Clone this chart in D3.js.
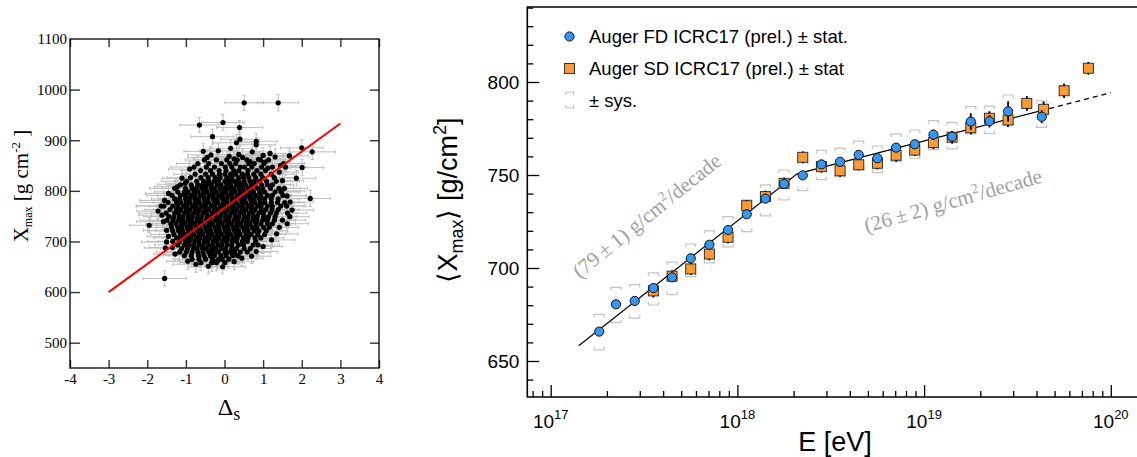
<!DOCTYPE html>
<html>
<head>
<meta charset="utf-8">
<script src="https://cdn.jsdelivr.net/npm/d3@7"></script>
<style>
  html, body { margin: 0; padding: 0; background: #fff; }
  svg { display: block; }
</style>
</head>
<body>
<svg id="chart" width="1137" height="457"></svg>
<script>
// ================= Left panel: Xmax of single events against Δs =================
// Events are grouped in Xmax bands; each band lists the Δs of its events.
const bandXmax = [861, 854, 847, 840, 833, 826, 819, 812, 805, 798, 791, 784, 777, 770, 763,
                  756, 749, 742, 735, 728, 721, 714, 707, 700, 693, 686, 679, 672, 665, 658];
const bandDeltaS = [
  [-0.52, -0.21, 0.06, 0.33, 0.58, 0.93, 1.14],
  [-0.69, -0.41, -0.08, 0.14, 0.29, 0.63, 0.77, 1.02, 1.53],
  [-0.79, -0.47, -0.26, 0.02, 0.19, 0.41, 0.52, 0.71, 0.96, 1.24, 1.58],
  [-0.62, -0.36, -0.14, 0.04, 0.24, 0.37, 0.61, 0.84, 1.06],
  [-0.76, -0.49, -0.31, -0.13, 0.01, 0.16, 0.29, 0.46, 0.59, 0.76, 0.94, 1.21],
  [-0.88, -0.61, -0.42, -0.24, -0.11, 0.06, 0.19, 0.36, 0.49, 0.63, 0.81, 0.99, 1.29],
  [-0.98, -0.72, -0.54, -0.41, -0.27, -0.16, 0.01, 0.13, 0.26, 0.37, 0.51, 0.66, 0.77, 0.91, 1.09, 1.34],
  [-1.14, -0.86, -0.69, -0.57, -0.46, -0.34, -0.19, -0.09, 0.06, 0.16, 0.31, 0.43, 0.54, 0.69, 0.79, 0.96, 1.11, 1.24],
  [-1.29, -1.01, -0.84, -0.73, -0.59, -0.49, -0.35, -0.25, -0.11, 0.01, 0.13, 0.23, 0.37, 0.47, 0.61, 0.71, 0.86, 0.99, 1.19, 1.41],
  [-1.21, -1.04, -0.94, -0.79, -0.69, -0.55, -0.45, -0.31, -0.21, -0.07, 0.03, 0.17, 0.27, 0.41, 0.51, 0.65, 0.75, 0.91, 1.04, 1.31, 1.46],
  [-1.36, -1.14, -1.01, -0.87, -0.77, -0.63, -0.53, -0.39, -0.29, -0.15, -0.05, 0.09, 0.19, 0.33, 0.43, 0.57, 0.67, 0.81, 0.94, 1.11, 1.24, 1.51],
  [-1.29, -1.16, -1.01, -0.91, -0.77, -0.67, -0.53, -0.43, -0.29, -0.19, -0.05, 0.05, 0.19, 0.29, 0.43, 0.53, 0.67, 0.77, 0.91, 1.04, 1.21, 1.39],
  [-1.46, -1.24, -1.13, -0.99, -0.89, -0.75, -0.65, -0.51, -0.41, -0.27, -0.17, -0.03, 0.07, 0.21, 0.31, 0.45, 0.55, 0.69, 0.79, 0.93, 1.04, 1.21, 1.37, 1.56],
  [-1.64, -1.57, -1.34, -1.21, -1.07, -0.97, -0.83, -0.73, -0.59, -0.49, -0.35, -0.25, -0.11, -0.01, 0.13, 0.23, 0.37, 0.47, 0.61, 0.71, 0.85, 0.95, 1.11, 1.24, 1.46, 1.61],
  [-1.41, -1.24, -1.13, -0.99, -0.89, -0.75, -0.65, -0.51, -0.41, -0.27, -0.17, -0.03, 0.07, 0.21, 0.31, 0.45, 0.55, 0.69, 0.79, 0.95, 1.07, 1.23, 1.39],
  [-1.51, -1.29, -1.18, -1.04, -0.94, -0.8, -0.7, -0.56, -0.46, -0.32, -0.22, -0.08, 0.02, 0.16, 0.26, 0.4, 0.5, 0.64, 0.74, 0.89, 1.01, 1.19, 1.34, 1.63],
  [-1.44, -1.31, -1.17, -1.07, -0.93, -0.83, -0.69, -0.59, -0.45, -0.35, -0.21, -0.11, 0.03, 0.13, 0.27, 0.37, 0.51, 0.61, 0.75, 0.85, 1.01, 1.14, 1.31, 1.69],
  [-1.49, -1.33, -1.19, -1.09, -0.95, -0.85, -0.71, -0.61, -0.47, -0.37, -0.23, -0.13, 0.01, 0.11, 0.25, 0.35, 0.49, 0.59, 0.73, 0.84, 0.99, 1.11, 1.29],
  [-1.39, -1.26, -1.12, -1.02, -0.88, -0.78, -0.64, -0.54, -0.4, -0.3, -0.16, -0.06, 0.08, 0.18, 0.32, 0.42, 0.56, 0.66, 0.81, 0.94, 1.11, 1.24, 1.62],
  [-1.37, -1.21, -1.11, -0.97, -0.87, -0.73, -0.63, -0.49, -0.39, -0.25, -0.15, -0.01, 0.09, 0.23, 0.33, 0.47, 0.57, 0.71, 0.84, 1.01, 1.16],
  [-1.34, -1.19, -1.08, -0.94, -0.84, -0.7, -0.6, -0.46, -0.36, -0.22, -0.12, 0.02, 0.12, 0.26, 0.36, 0.51, 0.61, 0.77, 0.89, 1.08],
  [-1.31, -1.14, -1.04, -0.9, -0.8, -0.66, -0.56, -0.42, -0.32, -0.18, -0.08, 0.06, 0.16, 0.3, 0.4, 0.56, 0.69, 0.86, 1.04],
  [-1.24, -1.11, -0.97, -0.87, -0.73, -0.63, -0.49, -0.39, -0.25, -0.15, -0.01, 0.09, 0.23, 0.33, 0.49, 0.61, 0.79, 0.94],
  [-1.34, -1.16, -1.01, -0.91, -0.77, -0.67, -0.53, -0.43, -0.29, -0.19, -0.05, 0.05, 0.19, 0.31, 0.46, 0.59, 0.81],
  [-1.21, -1.04, -0.91, -0.79, -0.65, -0.55, -0.41, -0.31, -0.17, -0.07, 0.07, 0.19, 0.36, 0.49, 0.74, 0.87],
  [-1.11, -0.96, -0.81, -0.71, -0.57, -0.47, -0.33, -0.23, -0.09, 0.03, 0.19, 0.31, 0.51, 0.67],
  [-1.16, -0.99, -0.84, -0.69, -0.56, -0.41, -0.29, -0.16, 0.01, 0.13, 0.26, 0.41, 0.59],
  [-1.04, -0.86, -0.67, -0.53, -0.37, -0.26, -0.09, 0.04, 0.21, 0.34],
  [-0.84, -0.66, -0.49, -0.31, -0.14, -0.06, 0.11],
  [-0.61, -0.33, -0.21, 0.01]
];
const bandSigmaDeltaS = [
  [.5,.55,.45,.6,.5,.65,.55],
  [.55,.5,.6,.45,.5,.55,.6,.5,.55],
  [.6,.5,.45,.55,.5,.6,.45,.55,.5,.6,.55],
  [.5,.6,.45,.55,.5,.45,.6,.5,.55],
  [.55,.6,.5,.45,.55,.5,.6,.45,.5,.55,.5,.6],
  [.6,.5,.55,.45,.6,.5,.45,.55,.5,.6,.5,.55,.6],
  [.65,.55,.5,.6,.45,.5,.55,.6,.45,.5,.55,.5,.6,.45,.55,.6],
  [.6,.55,.5,.6,.45,.55,.5,.6,.5,.45,.55,.6,.5,.45,.55,.5,.6,.55],
  [.65,.6,.5,.55,.45,.6,.5,.55,.45,.5,.6,.5,.55,.45,.6,.5,.55,.5,.6,.55],
  [.6,.55,.5,.6,.45,.55,.5,.6,.5,.45,.55,.6,.5,.45,.55,.5,.6,.45,.55,.6,.5],
  [.65,.6,.5,.55,.45,.6,.5,.55,.45,.5,.6,.5,.55,.45,.6,.5,.55,.5,.6,.55,.5,.6],
  [.6,.55,.5,.6,.45,.55,.5,.6,.5,.45,.55,.6,.5,.45,.55,.5,.6,.45,.55,.6,.5,.55],
  [.7,.6,.5,.55,.45,.6,.5,.55,.45,.5,.6,.5,.55,.45,.6,.5,.55,.5,.6,.55,.5,.6,.55,.5],
  [.65,.7,.6,.55,.5,.6,.45,.55,.5,.6,.5,.45,.55,.6,.5,.45,.55,.5,.6,.45,.55,.6,.5,.55,.6,.5],
  [.65,.6,.5,.55,.45,.6,.5,.55,.45,.5,.6,.5,.55,.45,.6,.5,.55,.5,.6,.55,.5,.6,.55],
  [.7,.6,.55,.5,.6,.45,.55,.5,.6,.5,.45,.55,.6,.5,.45,.55,.5,.6,.45,.55,.6,.5,.55,.5],
  [.65,.6,.5,.55,.45,.6,.5,.55,.45,.5,.6,.5,.55,.45,.6,.5,.55,.5,.6,.55,.5,.6,.55,.5],
  [.7,.6,.55,.5,.6,.45,.55,.5,.6,.5,.45,.55,.6,.5,.45,.55,.5,.6,.45,.55,.6,.5,.55],
  [.65,.6,.5,.55,.45,.6,.5,.55,.45,.5,.6,.5,.55,.45,.6,.5,.55,.5,.6,.55,.5,.6,.55],
  [.6,.55,.5,.6,.45,.55,.5,.6,.5,.45,.55,.6,.5,.45,.55,.5,.6,.45,.55,.6,.5],
  [.65,.6,.5,.55,.45,.6,.5,.55,.45,.5,.6,.5,.55,.45,.6,.5,.55,.5,.6,.55],
  [.6,.55,.5,.6,.45,.55,.5,.6,.5,.45,.55,.6,.5,.45,.55,.5,.6,.45,.55],
  [.6,.5,.55,.45,.6,.5,.55,.45,.5,.6,.5,.55,.45,.6,.5,.55,.5,.6],
  [.65,.55,.5,.6,.45,.55,.5,.6,.5,.45,.55,.6,.5,.45,.55,.5,.6],
  [.6,.5,.55,.45,.6,.5,.55,.45,.5,.6,.5,.55,.45,.6,.5,.55],
  [.55,.6,.5,.45,.55,.5,.6,.45,.5,.55,.6,.5,.45,.55],
  [.6,.5,.55,.45,.6,.5,.55,.45,.5,.6,.5,.55,.6],
  [.55,.6,.5,.45,.55,.5,.6,.45,.5,.55],
  [.5,.55,.6,.45,.5,.55,.5],
  [.55,.5,.6,.5]
];
const bandSigmaXmax = [
  [16,14,17,15,13,18,15],
  [15,17,13,16,18,14,16,15,17],
  [17,14,16,15,18,13,16,17,14,15,16],
  [14,16,18,15,13,17,15,16,14],
  [16,15,13,17,16,14,18,15,16,13,17,15],
  [15,17,16,14,15,18,13,16,15,17,14,16,15],
  [17,15,14,16,18,15,13,16,17,14,15,16,18,15,14,16],
  [14,16,17,15,13,16,18,14,15,17,16,13,15,17,14,16,15,18],
  [16,15,13,17,16,14,18,15,16,13,17,15,14,16,18,15,13,16,17,15],
  [15,17,16,14,15,18,13,16,15,17,14,16,15,13,17,16,14,18,15,16,14],
  [17,14,16,15,18,13,16,17,14,15,16,18,15,14,16,17,13,15,16,14,17,15],
  [14,16,18,15,13,17,15,16,14,17,15,13,16,18,14,15,17,16,13,15,16,14],
  [16,15,13,17,16,14,18,15,16,13,17,15,14,16,18,15,13,16,17,15,14,16,15,17],
  [15,17,16,14,15,18,13,16,15,17,14,16,15,13,17,16,14,18,15,16,14,17,15,13,16,18],
  [17,14,16,15,18,13,16,17,14,15,16,18,15,14,16,17,13,15,16,14,17,15,16],
  [14,16,18,15,13,17,15,16,14,17,15,13,16,18,14,15,17,16,13,15,16,14,17,15],
  [16,15,13,17,16,14,18,15,16,13,17,15,14,16,18,15,13,16,17,15,14,16,15,17],
  [15,17,16,14,15,18,13,16,15,17,14,16,15,13,17,16,14,18,15,16,14,17,15],
  [17,14,16,15,18,13,16,17,14,15,16,18,15,14,16,17,13,15,16,14,17,15,16],
  [14,16,18,15,13,17,15,16,14,17,15,13,16,18,14,15,17,16,13,15,16],
  [16,15,13,17,16,14,18,15,16,13,17,15,14,16,18,15,13,16,17,15],
  [15,17,16,14,15,18,13,16,15,17,14,16,15,13,17,16,14,18,15],
  [17,14,16,15,18,13,16,17,14,15,16,18,15,14,16,17,13,15],
  [14,16,18,15,13,17,15,16,14,17,15,13,16,18,14,15,17],
  [16,15,13,17,16,14,18,15,16,13,17,15,14,16,18,15],
  [15,17,16,14,15,18,13,16,15,17,14,16,15,13],
  [17,14,16,15,18,13,16,17,14,15,16,18,15],
  [14,16,18,15,13,17,15,16,14,17],
  [16,15,13,17,16,14,18],
  [15,17,16,14]
];
// Events scattered around the rim of the cloud and isolated outliers
const looseDeltaS      = [-1.55, 0.51, 1.39, -0.65, -0.04, 0.39, -0.31, 0.40, 0.31, 0.82, 0.82, 2.00, 2.27, -0.16,
                          0.16, -0.35, 1.68, 0.37, 0.47, 1.31, 1.18, 1.86, 2.22, -1.95, -1.53, -1.02, 2.01,
                          -0.45, 0.12, 0.66, 0.88, 1.05, -0.90, 1.42, 1.12, -0.55, 0.25, 0.72, 1.00, 1.45,
                          -1.45, -1.55, -1.72, -1.62, -1.58, -1.50, -1.45, -1.50, -1.35, -1.28, -1.22, -1.10,
                          1.50, 1.55, 1.62, 1.70, 1.75, 1.50, 1.42, 1.35, 1.22, 1.00, 0.82, 0.70, 1.48,
                          -0.95, -0.42, -0.05, 0.25, 0.45, 0.35, -0.74, -0.18];
const looseXmax        = [627, 974, 974, 930, 935, 925, 907, 902, 895, 898, 891, 885, 877, 879,
                          884, 871, 869, 872, 866, 867, 874, 825, 785, 732, 687, 815, 846,
                          866, 868, 858, 862, 857, 843, 837, 845, 878, 863, 877, 870, 850,
                          795, 781, 760, 752, 739, 722, 710, 699, 688, 675, 808, 825,
                          820, 805, 790, 778, 762, 742, 728, 715, 703, 690, 680, 671, 800,
                          661, 651, 650, 660, 667, 672, 655, 662];
const looseSigmaDeltaS = [.56, .5, .53, .5, .55, .6, .55, .5, .6, .55, .5, .55, .6, .5,
                          .55, .6, .5, .55, .6, .5, .55, .5, .52, .5, .55, .5, .55,
                          .5, .6, .55, .5, .6, .55, .5, .6, .5, .55, .5, .6, .55,
                          .6, .65, .55, .6, .7, .6, .55, .65, .6, .55, .6, .5,
                          .55, .6, .5, .6, .55, .6, .5, .55, .6, .5, .55, .5, .6,
                          .55, .5, .6, .5, .55, .5, .6, .5];
const looseSigmaXmax   = [15, 15, 16, 15, 16, 14, 15, 14, 16, 15, 14, 16, 15, 14,
                          15, 16, 15, 14, 15, 16, 14, 15, 16, 15, 14, 15, 16,
                          15, 16, 14, 15, 16, 15, 14, 16, 15, 14, 16, 15, 14,
                          16, 15, 14, 16, 15, 17, 15, 14, 16, 15, 14, 16,
                          15, 16, 14, 15, 16, 15, 14, 16, 15, 14, 16, 15, 14,
                          16, 15, 14, 16, 15, 14, 16, 15];
// Linear fit through the events
const fitDeltaS = [-3, 3];
const fitXmax   = [600, 933];
const leftXTicks = [-4, -3, -2, -1, 0, 1, 2, 3, 4];
const leftYTicks = [500, 600, 700, 800, 900, 1000, 1100];

// ================= Right panel: <Xmax> against energy =================
const fdLog10E = [17.26, 17.35, 17.45, 17.55, 17.65, 17.75, 17.85, 17.95, 18.05, 18.15, 18.25, 18.35,
                  18.45, 18.55, 18.65, 18.75, 18.85, 18.95, 19.05, 19.15, 19.25, 19.35, 19.45, 19.63];
const fdXmax   = [665.8, 680.5, 682.3, 689.2, 695.0, 705.2, 712.5, 720.4, 728.9, 737.3, 745.2, 749.8,
                  755.7, 757.1, 760.8, 759.0, 764.7, 766.5, 771.7, 770.6, 778.7, 778.9, 784.2, 781.3];
const fdStat   = [2.0, 1.5, 1.3, 1.2, 1.1, 1.1, 1.1, 1.1, 1.1, 1.2, 1.2, 1.3,
                  1.4, 1.6, 1.8, 2.0, 2.2, 2.5, 2.8, 3.0, 4.5, 3.4, 5.5, 3.5];
const fdSysUp  = [9.3, 9.1, 8.8, 8.2, 8.2, 7.7, 7.5, 7.2, 7.7, 7.4, 7.5, 7.5,
                  7.5, 7.4, 7.4, 6.6, 7.4, 7.7, 7.5, 7.7, 8.1, 8.1, 8.8, 8.5];
const fdSysLow = [9.8, 9.8, 9.3, 9.1, 9.3, 9.8, 9.7, 9.0, 9.3, 9.3, 8.6, 8.2,
                  8.2, 8.1, 7.9, 7.7, 7.5, 7.5, 8.1, 6.6, 6.6, 6.6, 7.4, 5.7];
const sdLog10E = [17.55, 17.65, 17.75, 17.85, 17.95, 18.05, 18.15, 18.25, 18.35, 18.45, 18.55, 18.65,
                  18.75, 18.85, 18.95, 19.05, 19.15, 19.25, 19.35, 19.45, 19.55, 19.64, 19.75, 19.88];
const sdXmax   = [687.7, 695.6, 699.5, 707.5, 716.5, 733.5, 738.4, 745.5, 759.5, 754.5, 752.3, 755.5,
                  756.3, 760.6, 763.4, 767.4, 770.3, 775.4, 780.5, 779.6, 788.5, 785.3, 795.3, 807.4];
const sdStat   = [3.4, 3.1, 3.2, 3.3, 3.2, 3.0, 3.1, 3.0, 3.2, 3.1, 3.2, 3.0,
                  3.2, 3.3, 3.2, 3.3, 3.4, 3.5, 3.6, 3.8, 3.9, 4.1, 3.8, 3.4];
// Broken-line fit: elongation rates in g/cm^2 per decade on each side of the break
const fitBreakLog10E = 18.32;
const fitBreakXmax   = 750.6;
const rateBelowBreak = 79;
const rateAboveBreak = 26;
const fitStartLog10E = 17.15;
const fitSolidEndLog10E = 19.67;
const fitEndLog10E   = 20.0;
const rightXExponents = [17, 18, 19, 20];
const rightYTicks = [650, 700, 750, 800];

// ---------------------------------------------------------------------------------
const svg = d3.select('#chart');
const SERIF = "'Liberation Serif', 'Times New Roman', serif";
const SANS = "'Liberation Sans', Arial, Helvetica, sans-serif";

// ---------- left panel ----------
const L = { x0: 70, x1: 379, y0: 39, y1: 368 };
const lx = d3.scaleLinear().domain([-4, 4]).range([L.x0, L.x1]);
const ly = d3.scaleLinear().domain([450, 1100]).range([L.y1, L.y0]);

const events = [];
bandXmax.forEach((xm, i) => bandDeltaS[i].forEach((d, j) =>
  events.push({ d, x: xm, sd: bandSigmaDeltaS[i][j], sx: bandSigmaXmax[i][j] })));
looseDeltaS.forEach((d, i) =>
  events.push({ d, x: looseXmax[i], sd: looseSigmaDeltaS[i], sx: looseSigmaXmax[i] }));

const left = svg.append('g');
svg.append('defs').append('clipPath').attr('id', 'leftClip')
  .append('rect').attr('x', L.x0).attr('y', L.y0).attr('width', L.x1 - L.x0).attr('height', L.y1 - L.y0);

const cap = 1.6;
const errPath = events.map(e => {
  const cx = lx(e.d), cy = ly(e.x);
  const xa = lx(e.d - e.sd), xb = lx(e.d + e.sd);
  const ya = ly(e.x - e.sx), yb = ly(e.x + e.sx);
  return `M${xa},${cy}H${xb}M${xa},${cy - cap}V${cy + cap}M${xb},${cy - cap}V${cy + cap}` +
         `M${cx},${ya}V${yb}M${cx - cap},${ya}H${cx + cap}M${cx - cap},${yb}H${cx + cap}`;
}).join('');
left.append('path').attr('d', errPath).attr('fill', 'none')
  .attr('stroke', '#bdbdbd').attr('stroke-width', 1).attr('clip-path', 'url(#leftClip)');

left.append('g').selectAll('circle').data(events).join('circle')
  .attr('cx', e => lx(e.d)).attr('cy', e => ly(e.x)).attr('r', 2.6).attr('fill', '#000');

left.append('path')
  .attr('d', d3.line().x((d, i) => lx(d)).y((d, i) => ly(fitXmax[i]))(fitDeltaS))
  .attr('stroke', '#f00').attr('stroke-width', 2).attr('fill', 'none');

// axes with inward ticks on all four sides
const plainNum = d => String(d);
function styleAxis(g) {
  g.select('.domain').remove();
  g.selectAll('.tick line').attr('stroke', '#333').attr('stroke-width', 1.4);
  g.selectAll('.tick text').attr('font-family', SERIF).attr('font-size', 15).attr('fill', '#000');
}
left.append('g').attr('transform', `translate(${L.x0},0)`)
  .call(d3.axisLeft(ly).tickValues(leftYTicks.slice(0, -1)).tickSizeInner(-10).tickSizeOuter(0).tickPadding(3).tickFormat(plainNum))
  .call(styleAxis);
left.append('text').attr('x', L.x0 - 3).attr('y', ly(1100)).attr('dy', '0.32em')
  .attr('text-anchor', 'end').attr('font-family', SERIF).attr('font-size', 15).text('1100');
left.append('g').attr('transform', `translate(${L.x1},0)`)
  .call(d3.axisRight(ly).tickValues(leftYTicks.slice(0, -1)).tickSizeInner(-9).tickSizeOuter(0).tickFormat(''))
  .call(styleAxis);
left.append('g').attr('transform', `translate(0,${L.y1})`)
  .call(d3.axisBottom(lx).tickValues(leftXTicks).tickSizeInner(-8).tickSizeOuter(0).tickPadding(5).tickFormat(plainNum))
  .call(styleAxis);
left.append('g').attr('transform', `translate(0,${L.y0})`)
  .call(d3.axisTop(lx).tickValues(leftXTicks).tickSizeInner(-8).tickSizeOuter(0).tickFormat(''))
  .call(styleAxis);
left.append('rect').attr('x', L.x0).attr('y', L.y0).attr('width', L.x1 - L.x0).attr('height', L.y1 - L.y0)
  .attr('fill', 'none').attr('stroke', '#000').attr('stroke-width', 1.3);

// axis titles
const dsTitle = left.append('text').attr('x', 229).attr('y', 415).attr('text-anchor', 'middle')
  .attr('font-family', SERIF).attr('font-size', 24);
dsTitle.append('tspan').text('Δ');
dsTitle.append('tspan').attr('dy', 5).attr('font-size', 18).text('s');

const xmTitle = left.append('text').attr('transform', 'translate(28,186) rotate(-90)')
  .attr('text-anchor', 'middle').attr('font-family', SERIF).attr('font-size', 21);
xmTitle.append('tspan').text('X');
xmTitle.append('tspan').attr('dy', 4).attr('font-size', 12).text('max');
xmTitle.append('tspan').attr('dy', -4).text(' [g cm');
xmTitle.append('tspan').attr('dy', -8).attr('font-size', 13).text('-2');
xmTitle.append('tspan').attr('dy', 8).text(' ]');

// ---------- right panel ----------
const R = { x0: 527.3, x1: 1137, y0: 7, y1: 397 };
const rx = d3.scaleLog().domain([1e17, 1e20]).range([550.7, 1110.8]);
const ry = d3.scaleLinear().domain([650, 800]).range([361, 82]);
const eOf = t => Math.pow(10, t);
const right = svg.append('g');

// systematic brackets (FD)
const bw = 5, arm = 3;
const sysPath = fdLog10E.map((t, i) => {
  const x = rx(eOf(t)), yt = ry(fdXmax[i] + fdSysUp[i]), yb = ry(fdXmax[i] - fdSysLow[i]);
  return `M${x - bw},${yt + arm}V${yt}H${x + bw}V${yt + arm}M${x - bw},${yb - arm}V${yb}H${x + bw}V${yb - arm}`;
}).join('');
right.append('path').attr('d', sysPath).attr('fill', 'none').attr('stroke', '#c4c4c4').attr('stroke-width', 1.2);

// broken-line fit
const fitX = t => t < fitBreakLog10E
  ? fitBreakXmax + rateBelowBreak * (t - fitBreakLog10E)
  : fitBreakXmax + rateAboveBreak * (t - fitBreakLog10E);
const fitLine = d3.line().x(t => rx(eOf(t))).y(t => ry(fitX(t)));
right.append('path').attr('d', fitLine([fitStartLog10E, fitBreakLog10E, fitSolidEndLog10E]))
  .attr('fill', 'none').attr('stroke', '#000').attr('stroke-width', 1.2);
right.append('path').attr('d', fitLine([fitSolidEndLog10E, fitEndLog10E]))
  .attr('fill', 'none').attr('stroke', '#000').attr('stroke-width', 1.2).attr('stroke-dasharray', '5,4');

// SD points
right.append('path').attr('d', sdLog10E.map((t, i) => {
  const x = rx(eOf(t));
  return `M${x},${ry(sdXmax[i] - sdStat[i])}V${ry(sdXmax[i] + sdStat[i])}`;
}).join('')).attr('stroke', '#000').attr('stroke-width', 1.6);
const sq = 10;
right.append('g').selectAll('rect').data(sdLog10E).join('rect')
  .attr('x', t => rx(eOf(t)) - sq / 2).attr('y', (t, i) => ry(sdXmax[i]) - sq / 2)
  .attr('width', sq).attr('height', sq).attr('fill', '#fc9a35').attr('stroke', '#333').attr('stroke-width', 1);
// stat bar visible beyond the square
right.append('path').attr('d', sdLog10E.map((t, i) => {
  const x = rx(eOf(t)), y = ry(sdXmax[i]);
  return `M${x},${ry(sdXmax[i] - sdStat[i])}V${y + sq / 2}M${x},${y - sq / 2}V${ry(sdXmax[i] + sdStat[i])}`;
}).join('')).attr('stroke', '#000').attr('stroke-width', 1.6);

// FD points
right.append('path').attr('d', fdLog10E.map((t, i) => {
  const x = rx(eOf(t));
  return `M${x},${ry(fdXmax[i] - fdStat[i])}V${ry(fdXmax[i] + fdStat[i])}`;
}).join('')).attr('stroke', '#000').attr('stroke-width', 1.8);
right.append('g').selectAll('circle').data(fdLog10E).join('circle')
  .attr('cx', t => rx(eOf(t))).attr('cy', (t, i) => ry(fdXmax[i])).attr('r', 4.6)
  .attr('fill', '#3597f2').attr('stroke', '#111').attr('stroke-width', 1);

// frame
right.append('path').attr('d', `M${R.x1},${R.y0}H${R.x0}V${R.y1}H${R.x1}`)
  .attr('fill', 'none').attr('stroke', '#000').attr('stroke-width', 1.6);

// y ticks
const yFull = ry.copy().domain([ry.invert(R.y1), ry.invert(R.y0)]).range([R.y1, R.y0]);
const yMinor = yFull.ticks(20).filter(v => !rightYTicks.includes(v));
right.append('g').attr('transform', `translate(${R.x0},0)`)
  .call(d3.axisLeft(ry).tickValues(yMinor).tickSizeInner(-6).tickSizeOuter(0).tickFormat(''))
  .call(g => { g.select('.domain').remove(); g.selectAll('line').attr('stroke', '#000').attr('stroke-width', 1.3); });
right.append('g').attr('transform', `translate(${R.x0},0)`)
  .call(d3.axisLeft(ry).tickValues(rightYTicks).tickSizeInner(-12).tickSizeOuter(0).tickPadding(8).tickFormat(plainNum))
  .call(g => {
    g.select('.domain').remove();
    g.selectAll('line').attr('stroke', '#000').attr('stroke-width', 1.3);
    g.selectAll('text').attr('font-family', SANS).attr('font-size', 19).attr('fill', '#000');
  });

// x ticks
const eFull = d3.scaleLog().domain([rx.invert(R.x0), rx.invert(R.x1)]);
const majorE = rightXExponents.map(eOf);
const minorE = eFull.ticks().filter(v => !majorE.some(m => Math.abs(m - v) / m < 1e-6));
right.append('g').attr('transform', `translate(0,${R.y1})`)
  .call(d3.axisBottom(rx).tickValues(minorE).tickSizeInner(-6).tickSizeOuter(0).tickFormat(''))
  .call(g => { g.select('.domain').remove(); g.selectAll('line').attr('stroke', '#000').attr('stroke-width', 1.3); });
right.append('g').attr('transform', `translate(0,${R.y1})`)
  .call(d3.axisBottom(rx).tickValues(majorE).tickSizeInner(-12).tickSizeOuter(0).tickFormat(''))
  .call(g => { g.select('.domain').remove(); g.selectAll('line').attr('stroke', '#000').attr('stroke-width', 1.3); });
rightXExponents.forEach(n => {
  const t = right.append('text').attr('x', rx(eOf(n))).attr('y', 428).attr('text-anchor', 'middle')
    .attr('font-family', SANS).attr('font-size', 19);
  t.append('tspan').text('10');
  t.append('tspan').attr('dy', -9).attr('font-size', 13).text(n);
});

// axis titles
right.append('text').attr('x', 835).attr('y', 451).attr('text-anchor', 'middle')
  .attr('font-family', SANS).attr('font-size', 27).text('E [eV]');
const yt = right.append('text').attr('transform', 'translate(457,200) rotate(-90)')
  .attr('text-anchor', 'middle').attr('font-family', SANS).attr('font-size', 27);
yt.append('tspan').text('⟨X');
yt.append('tspan').attr('dy', 6).attr('font-size', 18).text('max');
yt.append('tspan').attr('dy', -6).text('⟩ [g/cm');
yt.append('tspan').attr('dy', -11).attr('font-size', 18).text('2');
yt.append('tspan').attr('dy', 11).text(']');

// elongation-rate annotations
function rateLabel(cx, cy, angle, rate, err) {
  const t = right.append('text').attr('transform', `translate(${cx},${cy}) rotate(${angle})`)
    .attr('text-anchor', 'middle').attr('dy', '0.32em')
    .attr('font-family', SERIF).attr('font-size', 21).attr('fill', '#a0a0a0');
  t.append('tspan').text(`(${rate}\u2009±\u2009${err}) g/cm`);
  t.append('tspan').attr('dy', -8).attr('font-size', 14).text('2');
  t.append('tspan').attr('dy', 8).text('/decade');
}
rateLabel(647, 216, -39, rateBelowBreak, 1);
rateLabel(953, 201, -16, rateAboveBreak, 2);

// legend
const lg = right.append('g');
const legX = 569.5;
lg.append('circle').attr('cx', legX).attr('cy', 36.5).attr('r', 4.6)
  .attr('fill', '#3597f2').attr('stroke', '#111').attr('stroke-width', 1);
lg.append('rect').attr('x', legX - 5).attr('y', 63.5).attr('width', 10).attr('height', 10)
  .attr('fill', '#fc9a35').attr('stroke', '#333').attr('stroke-width', 1);
lg.append('path')
  .attr('d', `M${legX - 4},${95}V${92}H${legX + 4}V${95}M${legX - 4},${105}V${108}H${legX + 4}V${105}`)
  .attr('fill', 'none').attr('stroke', '#c4c4c4').attr('stroke-width', 1.1);
const legendRows = [['Auger FD ICRC17 (prel.) ± stat.', 36.5], ['Auger SD ICRC17 (prel.) ± stat', 68.5], ['± sys.', 100]];
legendRows.forEach(([txt, y]) => lg.append('text').attr('x', 589).attr('y', y + 6.5)
  .attr('font-family', SANS).attr('font-size', 18.5).attr('fill', '#000').text(txt));
</script>
</body>
</html>
